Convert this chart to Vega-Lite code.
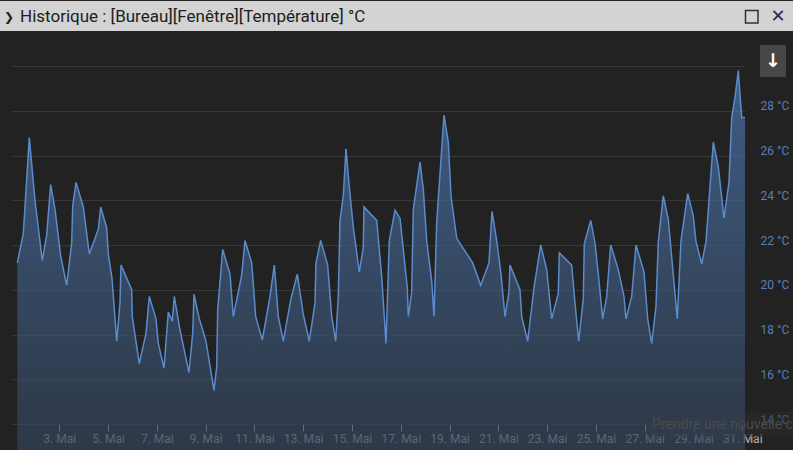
{
  "$schema": "https://vega.github.io/schema/vega-lite/v6.json",
  "autosize": "none",
  "width": 733,
  "height": 358,
  "padding": {"left": 12, "top": 66, "right": 48, "bottom": 26},
  "background": "#222222",
  "config": {
    "view": {"stroke": null},
    "font": "Roboto"
  },
  "layer": [
    {
      "data": {"values": [{"label": "Prendre une nouvelle capture"}]},
      "mark": {"type": "rect", "color": "#2c2c2c", "opacity": 0.5},
      "encoding": {
        "x": {"value": 635}, "x2": {"value": 790},
        "y": {"value": 346}, "y2": {"value": 371}
      }
    },
    {
      "data": {"values": [
        {"t": "2023-05-01T06:41", "v": 21.2},
        {"t": "2023-05-01T12:35", "v": 22.5},
        {"t": "2023-05-01T18:30", "v": 26.8},
        {"t": "2023-05-02T00:06", "v": 24.0},
        {"t": "2023-05-02T07:17", "v": 21.3},
        {"t": "2023-05-02T11:37", "v": 22.45},
        {"t": "2023-05-02T15:33", "v": 24.7},
        {"t": "2023-05-02T19:47", "v": 23.6},
        {"t": "2023-05-03T01:23", "v": 21.5},
        {"t": "2023-05-03T07:17", "v": 20.2},
        {"t": "2023-05-03T12:13", "v": 22.1},
        {"t": "2023-05-03T13:12", "v": 23.75},
        {"t": "2023-05-03T16:27", "v": 24.8},
        {"t": "2023-05-03T23:38", "v": 23.7},
        {"t": "2023-05-04T05:32", "v": 21.6},
        {"t": "2023-05-04T14:23", "v": 22.7},
        {"t": "2023-05-04T16:45", "v": 23.7},
        {"t": "2023-05-04T22:39", "v": 22.75},
        {"t": "2023-05-05T00:13", "v": 21.6},
        {"t": "2023-05-05T03:52", "v": 20.5},
        {"t": "2023-05-05T08:29", "v": 17.7},
        {"t": "2023-05-05T11:44", "v": 19.4},
        {"t": "2023-05-05T12:43", "v": 21.1},
        {"t": "2023-05-05T23:15", "v": 20.0},
        {"t": "2023-05-05T23:50", "v": 18.8},
        {"t": "2023-05-06T06:43", "v": 16.7},
        {"t": "2023-05-06T13:19", "v": 18.05},
        {"t": "2023-05-06T16:34", "v": 19.7},
        {"t": "2023-05-06T23:09", "v": 18.7},
        {"t": "2023-05-07T01:25", "v": 17.6},
        {"t": "2023-05-07T07:02", "v": 16.5},
        {"t": "2023-05-07T11:16", "v": 19.0},
        {"t": "2023-05-07T15:12", "v": 18.6},
        {"t": "2023-05-07T17:10", "v": 19.7},
        {"t": "2023-05-07T22:46", "v": 18.2},
        {"t": "2023-05-08T07:37", "v": 16.3},
        {"t": "2023-05-08T11:16", "v": 18.05},
        {"t": "2023-05-08T12:32", "v": 19.8},
        {"t": "2023-05-08T17:45", "v": 18.7},
        {"t": "2023-05-09T00:21", "v": 17.7},
        {"t": "2023-05-09T08:13", "v": 15.5},
        {"t": "2023-05-09T10:53", "v": 16.55},
        {"t": "2023-05-09T11:52", "v": 19.1},
        {"t": "2023-05-09T16:47", "v": 21.8},
        {"t": "2023-05-09T23:58", "v": 20.7},
        {"t": "2023-05-10T03:13", "v": 18.8},
        {"t": "2023-05-10T11:28", "v": 20.65},
        {"t": "2023-05-10T14:43", "v": 22.2},
        {"t": "2023-05-10T21:19", "v": 21.2},
        {"t": "2023-05-11T01:15", "v": 18.8},
        {"t": "2023-05-11T07:44", "v": 17.75},
        {"t": "2023-05-11T15:19", "v": 19.7},
        {"t": "2023-05-11T19:33", "v": 21.1},
        {"t": "2023-05-11T23:29", "v": 18.8},
        {"t": "2023-05-12T04:24", "v": 17.7},
        {"t": "2023-05-12T11:59", "v": 19.6},
        {"t": "2023-05-12T18:11", "v": 20.7},
        {"t": "2023-05-13T00:05", "v": 18.9},
        {"t": "2023-05-13T05:59", "v": 17.7},
        {"t": "2023-05-13T11:35", "v": 19.4},
        {"t": "2023-05-13T12:35", "v": 21.2},
        {"t": "2023-05-13T17:12", "v": 22.2},
        {"t": "2023-05-14T00:05", "v": 21.1},
        {"t": "2023-05-14T04:01", "v": 18.8},
        {"t": "2023-05-14T07:58", "v": 17.7},
        {"t": "2023-05-14T10:31", "v": 19.7},
        {"t": "2023-05-14T12:11", "v": 23.1},
        {"t": "2023-05-14T15:26", "v": 24.2},
        {"t": "2023-05-14T18:05", "v": 26.3},
        {"t": "2023-05-14T21:20", "v": 24.6},
        {"t": "2023-05-15T01:16", "v": 22.8},
        {"t": "2023-05-15T07:11", "v": 20.8},
        {"t": "2023-05-15T11:07", "v": 21.9},
        {"t": "2023-05-15T11:48", "v": 23.7},
        {"t": "2023-05-16T00:18", "v": 23.1},
        {"t": "2023-05-16T05:13", "v": 20.6},
        {"t": "2023-05-16T09:27", "v": 17.6},
        {"t": "2023-05-16T12:42", "v": 22.2},
        {"t": "2023-05-16T18:19", "v": 23.55},
        {"t": "2023-05-16T23:14", "v": 23.2},
        {"t": "2023-05-17T06:25", "v": 20.1},
        {"t": "2023-05-17T07:23", "v": 18.8},
        {"t": "2023-05-17T10:44", "v": 19.9},
        {"t": "2023-05-17T12:19", "v": 23.6},
        {"t": "2023-05-17T18:54", "v": 25.7},
        {"t": "2023-05-17T22:09", "v": 24.5},
        {"t": "2023-05-18T01:29", "v": 22.2},
        {"t": "2023-05-18T06:25", "v": 20.4},
        {"t": "2023-05-18T08:41", "v": 18.8},
        {"t": "2023-05-18T11:20", "v": 23.0},
        {"t": "2023-05-18T18:31", "v": 27.8},
        {"t": "2023-05-18T22:45", "v": 26.6},
        {"t": "2023-05-19T01:24", "v": 24.2},
        {"t": "2023-05-19T07:01", "v": 22.3},
        {"t": "2023-05-19T22:45", "v": 21.2},
        {"t": "2023-05-20T06:37", "v": 20.2},
        {"t": "2023-05-20T14:47", "v": 21.2},
        {"t": "2023-05-20T17:44", "v": 23.5},
        {"t": "2023-05-20T22:22", "v": 22.2},
        {"t": "2023-05-21T02:35", "v": 20.7},
        {"t": "2023-05-21T06:32", "v": 18.8},
        {"t": "2023-05-21T10:28", "v": 19.9},
        {"t": "2023-05-21T11:27", "v": 21.1},
        {"t": "2023-05-21T21:17", "v": 20.0},
        {"t": "2023-05-21T22:58", "v": 18.8},
        {"t": "2023-05-22T04:52", "v": 17.7},
        {"t": "2023-05-22T11:04", "v": 20.1},
        {"t": "2023-05-22T17:39", "v": 22.0},
        {"t": "2023-05-22T23:33", "v": 20.9},
        {"t": "2023-05-23T04:28", "v": 18.7},
        {"t": "2023-05-23T10:58", "v": 19.85},
        {"t": "2023-05-23T11:57", "v": 21.65},
        {"t": "2023-05-24T00:09", "v": 21.1},
        {"t": "2023-05-24T03:24", "v": 19.4},
        {"t": "2023-05-24T07:02", "v": 17.7},
        {"t": "2023-05-24T11:34", "v": 19.6},
        {"t": "2023-05-24T12:33", "v": 22.05},
        {"t": "2023-05-24T18:50", "v": 23.1},
        {"t": "2023-05-24T23:04", "v": 22.1},
        {"t": "2023-05-25T02:19", "v": 20.7},
        {"t": "2023-05-25T06:39", "v": 18.7},
        {"t": "2023-05-25T10:35", "v": 19.7},
        {"t": "2023-05-25T14:31", "v": 22.0},
        {"t": "2023-05-25T21:59", "v": 20.9},
        {"t": "2023-05-26T03:36", "v": 19.7},
        {"t": "2023-05-26T05:34", "v": 18.7},
        {"t": "2023-05-26T11:11", "v": 19.7},
        {"t": "2023-05-26T15:25", "v": 22.0},
        {"t": "2023-05-26T23:17", "v": 20.8},
        {"t": "2023-05-27T02:55", "v": 18.7},
        {"t": "2023-05-27T06:52", "v": 17.6},
        {"t": "2023-05-27T11:05", "v": 19.25},
        {"t": "2023-05-27T13:21", "v": 22.15},
        {"t": "2023-05-27T18:16", "v": 24.2},
        {"t": "2023-05-27T23:11", "v": 23.15},
        {"t": "2023-05-28T08:02", "v": 18.7},
        {"t": "2023-05-28T11:41", "v": 22.2},
        {"t": "2023-05-28T18:17", "v": 24.3},
        {"t": "2023-05-28T23:47", "v": 23.3},
        {"t": "2023-05-29T02:26", "v": 22.15},
        {"t": "2023-05-29T08:03", "v": 21.15},
        {"t": "2023-05-29T12:17", "v": 22.15},
        {"t": "2023-05-29T19:28", "v": 26.6},
        {"t": "2023-05-30T00:23", "v": 25.5},
        {"t": "2023-05-30T05:59", "v": 23.2},
        {"t": "2023-05-30T10:55", "v": 24.8},
        {"t": "2023-05-30T13:34", "v": 27.7},
        {"t": "2023-05-30T16:49", "v": 28.6},
        {"t": "2023-05-30T20:04", "v": 29.8},
        {"t": "2023-05-30T23:25", "v": 27.7},
        {"t": "2023-05-31T02:40", "v": 27.7}
      ]},
      "mark": {
        "type": "area",
        "interpolate": "linear",
        "color": {
          "gradient": "linear",
          "x1": 0, "y1": 0, "x2": 0, "y2": 1,
          "stops": [
            {"offset": 0, "color": "#4b76b0"},
            {"offset": 0.5, "color": "#35475f"},
            {"offset": 1, "color": "#262a31"}
          ]
        },
        "line": {"color": "#5a8bcb", "strokeWidth": 1.5}
      },
      "encoding": {
        "x": {
          "field": "t",
          "type": "temporal",
          "scale": {"domain": ["2023-05-01T01:29", "2023-05-31T02:40"], "nice": false},
          "axis": {
            "title": null,
            "values": ["2023-05-03T00:00", "2023-05-05T00:00", "2023-05-07T00:00", "2023-05-09T00:00", "2023-05-11T00:00", "2023-05-13T00:00", "2023-05-15T00:00", "2023-05-17T00:00", "2023-05-19T00:00", "2023-05-21T00:00", "2023-05-23T00:00", "2023-05-25T00:00", "2023-05-27T00:00", "2023-05-29T00:00", "2023-05-31T00:00"],
            "format": "%-d. Mai",
            "grid": false,
            "domainColor": "#3a3a3a",
            "tickColor": "#cccccc",
            "tickSize": 7,
            "labelColor": "#b4b4b4",
            "labelFontSize": 12,
            "labelPadding": 2,
            "labelFont": "Roboto",
            "labelOverlap": false
          }
        },
        "y": {
          "field": "v",
          "type": "quantitative",
          "scale": {"domain": [14, 30], "nice": false, "zero": false},
          "axis": {
            "title": null,
            "orient": "right",
            "values": [14, 16, 18, 20, 22, 24, 26, 28, 30],
            "labelExpr": "datum.value >= 30 ? '' : datum.value + ' °C'",
            "grid": true,
            "gridColor": "#383838",
            "gridWidth": 1,
            "domain": false,
            "ticks": false,
            "labelColor": "#5580b8",
            "labelFontSize": 12,
            "labelFont": "Roboto",
            "labelPadding": 15,
            "labelBaseline": "alphabetic",
            "labelOffset": -1
          }
        }
      }
    },
    {
      "data": {"values": [{"label": "Historique : [Bureau][Fenêtre][Température] °C"}]},
      "mark": {"type": "rect", "color": "#d3d3d3"},
      "encoding": {
        "x": {"value": -12}, "x2": {"value": 781},
        "y": {"value": -65}, "y2": {"value": -35}
      }
    },
    {
      "data": {"values": [{"label": "Historique : [Bureau][Fenêtre][Température] °C"}]},
      "mark": {"type": "text", "align": "left", "baseline": "middle", "fontSize": 17, "font": "Roboto", "color": "#202020"},
      "encoding": {
        "text": {"field": "label"},
        "x": {"value": 8}, "y": {"value": -49}
      }
    },
    {
      "data": {"values": [{"label": "❯"}]},
      "mark": {"type": "text", "align": "left", "baseline": "middle", "fontSize": 12, "font": "DejaVu Sans", "fontWeight": "bold", "color": "#202020"},
      "encoding": {
        "text": {"field": "label"},
        "x": {"value": -8}, "y": {"value": -49}
      }
    },
    {
      "data": {"values": [{"label": "window"}]},
      "mark": {"type": "rect", "fill": null, "stroke": "#303030", "strokeWidth": 1.5},
      "encoding": {
        "x": {"value": 733.5}, "x2": {"value": 746},
        "y": {"value": -55.5}, "y2": {"value": -43}
      }
    },
    {
      "data": {"values": [{"label": "✕"}]},
      "mark": {"type": "text", "align": "center", "baseline": "middle", "fontSize": 18, "font": "DejaVu Sans", "color": "#303030"},
      "encoding": {
        "text": {"field": "label"},
        "x": {"value": 766}, "y": {"value": -49}
      }
    },
    {
      "data": {"values": [{"label": "button"}]},
      "mark": {"type": "rect", "color": "#474747"},
      "encoding": {
        "x": {"value": 748}, "x2": {"value": 774},
        "y": {"value": -21}, "y2": {"value": 11}
      }
    },
    {
      "data": {"values": [{"label": "↓"}]},
      "mark": {"type": "text", "align": "center", "baseline": "middle", "fontSize": 19, "font": "DejaVu Sans", "fontWeight": "bold", "color": "#ffffff"},
      "encoding": {
        "text": {"field": "label"},
        "x": {"value": 761}, "y": {"value": -5}
      }
    },
    {
      "data": {"values": [{"label": "Prendre une nouvelle capture"}]},
      "mark": {"type": "text", "align": "left", "baseline": "middle", "fontSize": 14, "font": "Roboto", "color": "#4a4a4a"},
      "encoding": {
        "text": {"field": "label"},
        "x": {"value": 640}, "y": {"value": 359}
      }
    }
  ]
}
